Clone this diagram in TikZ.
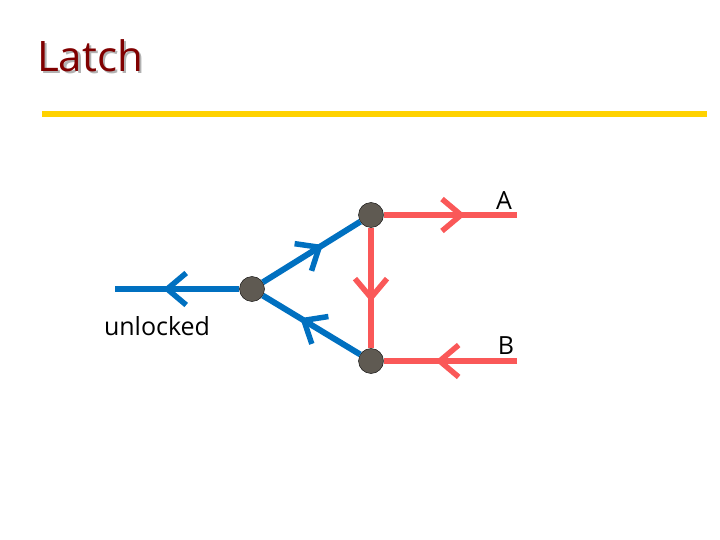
\documentclass[tikz,border=0pt]{standalone}
\usepackage{fontspec}
\setmainfont{Open Sans}
\usetikzlibrary{arrows.meta, decorations.markings, positioning}

\definecolor{wireblue}{RGB}{0,112,192}
\definecolor{wirered}{RGB}{250,88,88}
\definecolor{rulegold}{RGB}{255,210,0}
\definecolor{titlered}{RGB}{128,0,0}
\definecolor{dotgray}{RGB}{95,90,82}

\begin{document}
\begin{tikzpicture}[x=1pt, y=-1pt,
    junction/.style={circle, draw=black, thin, fill=dotgray, minimum size=25pt, inner sep=0pt},
    label/.style={font=\fontsize{25}{29}\selectfont, inner sep=0pt},
    flow/.style={line width=6pt, postaction={decorate}, decoration={markings,
        mark=at position #1 with {\draw[line width=5.5pt] (-19pt,-16pt) -- (0pt,0pt) -- (-19pt,16pt);}}},
    flow/.default=0.58,
    arrowblue/.style={flow, draw=wireblue},
    arrowred/.style={flow, draw=wirered}
]
\useasboundingbox (0,0) rectangle (720,540);

% Title and rule
\node[font=\fontsize{42}{48}\selectfont, anchor=west, inner sep=0pt] (title) at (37,57)
    {\rlap{\hspace{2.5pt}\raisebox{-2.5pt}{\textcolor{black!30}{Latch}}}\textcolor{titlered}{Latch}};
\draw[rulegold, line width=6pt] (42,114) -- (707,114);

% Junctions
\node[junction] (mid) at (252,289) {};
\node[junction] (up)  at (371,215) {};
\node[junction] (low) at (371,361) {};

% Free ends
\coordinate (out) at (115,289);
\coordinate (ina) at (517,215);
\coordinate (inb) at (517,361);

% Labels
\node[label] (unl) at (157,326) {unlocked};
\node[label] (la)  at (504,201) {A};
\node[label] (lb)  at (506,346) {B};

% Blue wires
\draw[arrowblue=0.5] (mid) -- (out);
\draw[arrowblue=0.6] (mid) -- (up);
\draw[arrowblue=0.6] (low) -- (mid);

% Red wires
\draw[arrowred=0.56] (up) -- (ina);
\draw[arrowred=0.6] (up) -- (low);
\draw[arrowred=0.63] (inb) -- (low);

\end{tikzpicture}
\end{document}
